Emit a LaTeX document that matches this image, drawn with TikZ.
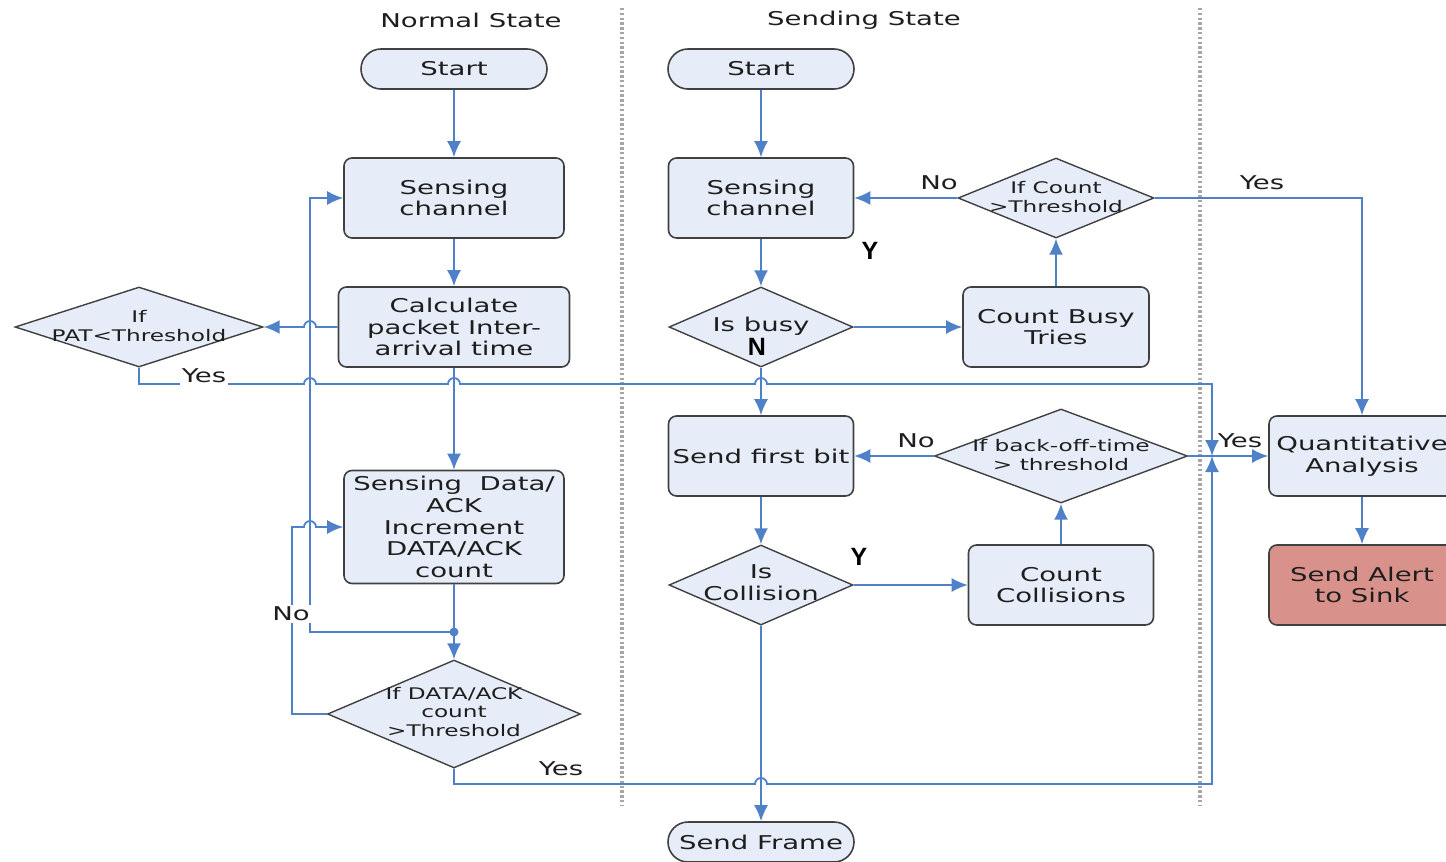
\documentclass[tikz,border=0pt]{standalone}
\usepackage{fontspec}
\setmainfont{DejaVu Sans}[FakeStretch=1.45]
\newfontfamily\ynfont{Liberation Sans}
\usetikzlibrary{arrows.meta,shapes.geometric,shapes.misc}
\definecolor{lineblue}{RGB}{79,129,201}
\definecolor{boxfill}{RGB}{231,237,248}
\definecolor{boxedge}{RGB}{64,64,64}
\definecolor{alertfill}{RGB}{217,146,139}
\definecolor{txt}{RGB}{30,30,30}
\newcommand{\boxfont}{\fontsize{9.5}{10.8}\selectfont}
\newcommand{\diafont}{\fontsize{8}{9.2}\selectfont}
\begin{document}
\begin{tikzpicture}[x=0.5pt,y=-0.5pt,
  flow/.style={draw=lineblue,line width=0.9pt},
  arr/.style={flow,-{Latex[length=8pt,width=7pt]}},
  box/.style={draw=boxedge,fill=boxfill,rounded corners=4pt,line width=0.8pt,
    align=center,inner sep=0pt,font=\boxfont,text=txt,minimum height=40pt},
  term/.style={draw=boxedge,fill=boxfill,rounded rectangle,line width=0.8pt,
    minimum width=93pt,minimum height=20pt,inner sep=0pt,font=\boxfont,text=txt},
  dia/.style={draw=boxedge,fill=boxfill,diamond,line width=0.7pt,inner sep=0pt},
  dtxt/.style={font=\diafont,text=txt,align=center,inner sep=0pt},
  btxt/.style={font=\boxfont,text=txt,align=center,inner sep=0pt},
  lab/.style={font=\boxfont,text=txt,inner sep=1pt},
  yn/.style={font=\ynfont\bfseries\fontsize{12.5}{14}\selectfont,text=black,inner sep=0pt},
  sep/.style={draw=black!35,line width=1.8pt,dash pattern=on 1.2pt off 1.2pt}]
\useasboundingbox (0,0) rectangle (1446,862);

% lane separators and headings
\draw[sep] (622,8) -- (622,805);
\draw[sep] (1200,8) -- (1200,805);
\node[lab] (hnorm) at (471,20) {Normal State};
\node[lab] (hsend) at (864,20) {Sending State};

% normal state column
\node[term] (st1) at (454,69) {Start};
\node[box,minimum width=110pt] (sc1) at (454,198) {Sensing\\channel};
\node[box,minimum width=115.5pt] (calc) at (454,327) {Calculate\\packet Inter-\\arrival time};
\node[dia,minimum width=124pt,minimum height=40pt] (pat) at (139,327) {};
\node[dtxt] (pattxt) at (139,326) {If\\PAT<Threshold};
\node[box,minimum width=110pt,minimum height=56.5pt] (sda) at (454,527)
  {Sensing~~Data/\\ACK\\Increment\\DATA/ACK\\count};
\node[circle,fill=lineblue,inner sep=0pt,minimum size=4.5pt] (dot) at (454,632) {};
\node[dia,minimum width=126.5pt,minimum height=54pt] (dak) at (454,714) {};
\node[dtxt] (daktxt) at (454,712) {If DATA/ACK\\count\\>Threshold};

% sending state column
\node[term] (st2) at (761,69) {Start};
\node[box,minimum width=92.5pt] (sc2) at (761,198) {Sensing\\channel};
\node[dia,minimum width=92pt,minimum height=40pt] (busy) at (761,327) {};
\node[btxt] (busytxt) at (761,326) {Is busy};
\node[box,minimum width=93pt] (cbt) at (1056,327) {Count Busy\\Tries};
\node[dia,minimum width=98pt,minimum height=40pt] (ifc) at (1056,198) {};
\node[dtxt] (ifctxt) at (1056,197) {If Count\\>Threshold};
\node[box,minimum width=92.5pt] (sfb) at (761,456) {Send first bit};
\node[dia,minimum width=126.5pt,minimum height=47pt] (bo) at (1061,456) {};
\node[dtxt] (botxt) at (1061,455) {If back-off-time\\> threshold};
\node[dia,minimum width=92pt,minimum height=40pt] (coll) at (761,585) {};
\node[btxt] (colltxt) at (761,583) {Is\\Collision};
\node[box,minimum width=92.5pt] (ccol) at (1061,585) {Count\\Collisions};
\node[term] (sf) at (761,842) {Send Frame};

% analysis column
\node[box,minimum width=93pt] (qa) at (1362,456) {Quantitative\\Analysis};
\node[box,minimum width=93pt,fill=alertfill] (alert) at (1362,585) {Send Alert\\to Sink};

% normal state connectors
\draw[arr] (st1) -- (sc1);
\draw[arr] (sc1) -- (calc);
\draw[arr] (calc.west) -- (316,327) arc[start angle=0,end angle=180,radius=3pt] -- (pat.east);
\draw[arr] (calc) -- (sda);
\draw[flow] (sda) -- (dot.center);
\draw[arr] (dot.center) -- (dak.north);
\draw[arr] (dot.center) -| (310,198) -- (sc1.west);
\draw[arr] (dak.west) -| (292,527) -- (304,527) arc[start angle=180,end angle=0,radius=3pt] -- (sda.west);
\draw[arr] (pat.south) |- (304,384) arc[start angle=180,end angle=0,radius=3pt]
  -- (448,384) arc[start angle=180,end angle=0,radius=3pt]
  -- (755,384) arc[start angle=180,end angle=0,radius=3pt]
  -- (1212,384) -- (1212,456);
\draw[arr] (dak.south) |- (755,784) arc[start angle=180,end angle=0,radius=3pt]
  -- (1212,784) -- (1212,456);

% sending state connectors
\draw[arr] (st2) -- (sc2);
\draw[arr] (sc2) -- (busy);
\draw[arr] (busy) -- (cbt);
\draw[arr] (cbt) -- (ifc);
\draw[arr] (ifc) -- (sc2);
\draw[arr] (ifc.east) -| (qa.north);
\draw[arr] (busy) -- (sfb);
\draw[arr] (sfb) -- (coll);
\draw[arr] (coll) -- (ccol);
\draw[arr] (ccol) -- (bo);
\draw[arr] (bo) -- (sfb);
\draw[arr] (bo) -- (qa);
\draw[arr] (coll) -- (sf);
\draw[arr] (qa) -- (alert);

% connector labels
\node[lab,fill=white] (l1) at (204,376) {Yes};
\node[lab,fill=white] (l2) at (291,614) {No};
\node[lab] (l3) at (561,769) {Yes};
\node[lab] (l4) at (939,183) {No};
\node[lab] (l5) at (1262,183) {Yes};
\node[lab] (l6) at (916,441) {No};
\node[lab] (l7) at (1240,441) {Yes};
\node[yn] (y1) at (870,251) {Y};
\node[yn] (n1) at (757,347) {N};
\node[yn] (y2) at (859,557) {Y};
\end{tikzpicture}
\end{document}
